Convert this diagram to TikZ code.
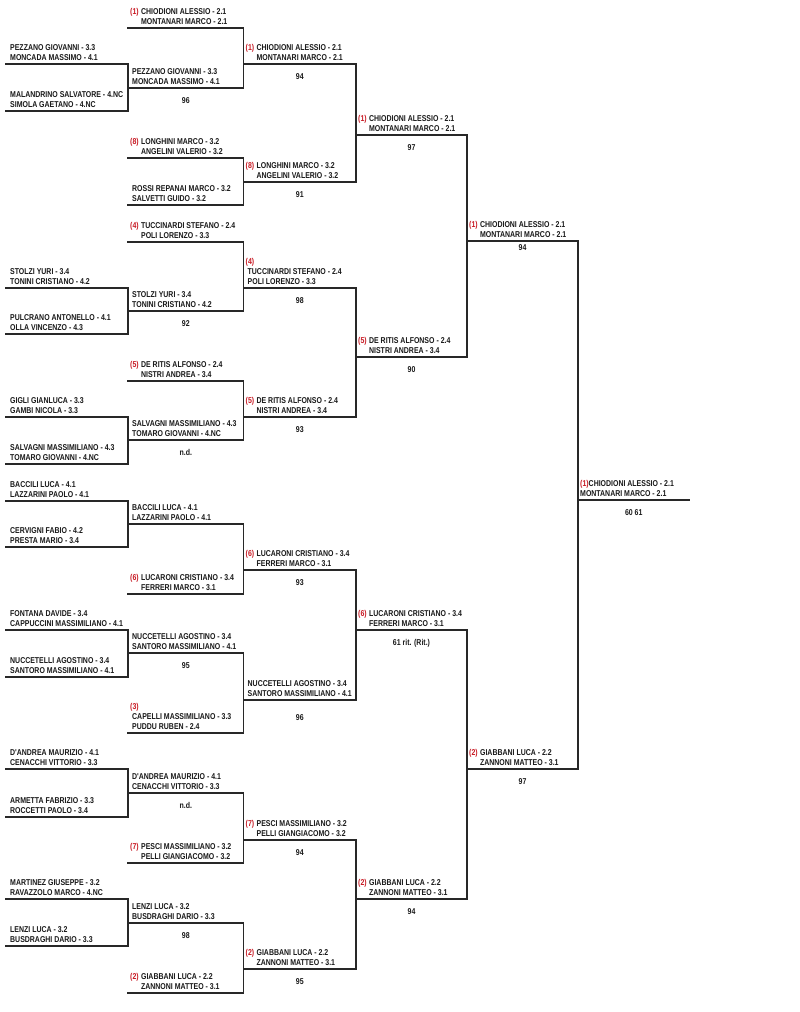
\documentclass[tikz,border=0pt]{standalone}
\usepackage{fontspec}
\newfontfamily\brfont{Liberation Sans}[FakeStretch=0.82]
\usetikzlibrary{calc}
\definecolor{seedred}{RGB}{200,25,35}
\definecolor{txt}{RGB}{25,25,25}
\definecolor{linec}{RGB}{40,40,40}
\tikzset{
  bline/.style={draw=linec, line width=1.3pt, line cap=rect, line join=miter},
  ptext/.style={anchor=base west, inner sep=0pt, text=txt, font=\brfont\bfseries\fontsize{8.5}{10}\selectfont},
  scoretext/.style={anchor=base, inner sep=0pt, text=txt, font=\brfont\bfseries\fontsize{8.5}{10}\selectfont},
}
\newcommand\sd[1]{\textcolor{seedred}{(#1)}\hspace{2.4pt}}
% name, x1, x2, y, line1, line2
\newcommand\plainslot[6]{%
  \coordinate (#1L) at (#2,#4);
  \coordinate (#1R) at (#3,#4);
  \node[ptext] (#1t1) at ($(#1L)+(4,-13.3)$) {#5};
  \node[ptext] (#1t2) at ($(#1L)+(4,-3.3)$) {#6};
}
% name, x1, x2, y, seed, line1, line2
\newcommand\seedslot[7]{%
  \coordinate (#1L) at (#2,#4);
  \coordinate (#1R) at (#3,#4);
  \node[ptext] (#1t1) at ($(#1L)+(2,-13.3)$) {\sd{#5}#6};
  \node[ptext] (#1t2) at ($(#1L)+(2,-3.3)$) {\hphantom{\sd{#5}}#7};
}
\newcommand\tripleslot[7]{%
  \coordinate (#1L) at (#2,#4);
  \coordinate (#1R) at (#3,#4);
  \node[ptext] (#1t0) at ($(#1L)+(2,-23.3)$) {\textcolor{seedred}{(#5)}};
  \node[ptext] (#1t1) at ($(#1L)+(4,-13.3)$) {#6};
  \node[ptext] (#1t2) at ($(#1L)+(4,-3.3)$) {#7};
}
\newcommand\scoreat[3][15]{%
  \node[scoretext] (#2s) at ($(#2L)!0.5!(#2R)+(0,#1)$) {#3};
}
\begin{document}
\begin{tikzpicture}[x=1pt,y=-1pt]
\fill[white] (0,0) rectangle (800,1012);
\useasboundingbox (0,0) rectangle (800,1012);

% ---------- column 0 ----------
\plainslot{a1}{6}{128}{64}{PEZZANO GIOVANNI - 3.3}{MONCADA MASSIMO - 4.1}
\plainslot{a2}{6}{128}{111}{MALANDRINO SALVATORE - 4.NC}{SIMOLA GAETANO - 4.NC}
\plainslot{a3}{6}{128}{288}{STOLZI YURI - 3.4}{TONINI CRISTIANO - 4.2}
\plainslot{a4}{6}{128}{334}{PULCRANO ANTONELLO - 4.1}{OLLA VINCENZO - 4.3}
\plainslot{a5}{6}{128}{417}{GIGLI GIANLUCA - 3.3}{GAMBI NICOLA - 3.3}
\plainslot{a6}{6}{128}{464}{SALVAGNI MASSIMILIANO - 4.3}{TOMARO GIOVANNI - 4.NC}
\plainslot{a7}{6}{128}{501}{BACCILI LUCA - 4.1}{LAZZARINI PAOLO - 4.1}
\plainslot{a8}{6}{128}{547}{CERVIGNI FABIO - 4.2}{PRESTA MARIO - 3.4}
\plainslot{a9}{6}{128}{630}{FONTANA DAVIDE - 3.4}{CAPPUCCINI MASSIMILIANO - 4.1}
\plainslot{a10}{6}{128}{677}{NUCCETELLI AGOSTINO - 3.4}{SANTORO MASSIMILIANO - 4.1}
\plainslot{a11}{6}{128}{769}{D'ANDREA MAURIZIO - 4.1}{CENACCHI VITTORIO - 3.3}
\plainslot{a12}{6}{128}{817}{ARMETTA FABRIZIO - 3.3}{ROCCETTI PAOLO - 3.4}
\plainslot{a13}{6}{128}{899}{MARTINEZ GIUSEPPE - 3.2}{RAVAZZOLO MARCO - 4.NC}
\plainslot{a14}{6}{128}{946}{LENZI LUCA - 3.2}{BUSDRAGHI DARIO - 3.3}

% ---------- column 1 ----------
\seedslot{b1}{128}{243.5}{28}{1}{CHIODIONI ALESSIO - 2.1}{MONTANARI MARCO - 2.1}
\plainslot{b2}{128}{243.5}{88}{PEZZANO GIOVANNI - 3.3}{MONCADA MASSIMO - 4.1}
\seedslot{b3}{128}{243.5}{158}{8}{LONGHINI MARCO - 3.2}{ANGELINI VALERIO - 3.2}
\plainslot{b4}{128}{243.5}{205}{ROSSI REPANAI MARCO - 3.2}{SALVETTI GUIDO - 3.2}
\seedslot{b5}{128}{243.5}{242}{4}{TUCCINARDI STEFANO - 2.4}{POLI LORENZO - 3.3}
\plainslot{b6}{128}{243.5}{311}{STOLZI YURI - 3.4}{TONINI CRISTIANO - 4.2}
\seedslot{b7}{128}{243.5}{381}{5}{DE RITIS ALFONSO - 2.4}{NISTRI ANDREA - 3.4}
\plainslot{b8}{128}{243.5}{440}{SALVAGNI MASSIMILIANO - 4.3}{TOMARO GIOVANNI - 4.NC}
\plainslot{b9}{128}{243.5}{524}{BACCILI LUCA - 4.1}{LAZZARINI PAOLO - 4.1}
\seedslot{b10}{128}{243.5}{594}{6}{LUCARONI CRISTIANO - 3.4}{FERRERI MARCO - 3.1}
\plainslot{b11}{128}{243.5}{653}{NUCCETELLI AGOSTINO - 3.4}{SANTORO MASSIMILIANO - 4.1}
\tripleslot{b12}{128}{243.5}{733}{3}{CAPELLI MASSIMILIANO - 3.3}{PUDDU RUBEN - 2.4}
\plainslot{b13}{128}{243.5}{793}{D'ANDREA MAURIZIO - 4.1}{CENACCHI VITTORIO - 3.3}
\seedslot{b14}{128}{243.5}{863}{7}{PESCI MASSIMILIANO - 3.2}{PELLI GIANGIACOMO - 3.2}
\plainslot{b15}{128}{243.5}{923}{LENZI LUCA - 3.2}{BUSDRAGHI DARIO - 3.3}
\seedslot{b16}{128}{243.5}{993}{2}{GIABBANI LUCA - 2.2}{ZANNONI MATTEO - 3.1}
\scoreat{b2}{96}
\scoreat{b6}{92}
\scoreat{b8}{n.d.}
\scoreat{b11}{95}
\scoreat{b13}{n.d.}
\scoreat{b15}{98}

% ---------- column 2 ----------
\seedslot{c1}{243.5}{356}{64}{1}{CHIODIONI ALESSIO - 2.1}{MONTANARI MARCO - 2.1}
\seedslot{c2}{243.5}{356}{182}{8}{LONGHINI MARCO - 3.2}{ANGELINI VALERIO - 3.2}
\tripleslot{c3}{243.5}{356}{288}{4}{TUCCINARDI STEFANO - 2.4}{POLI LORENZO - 3.3}
\seedslot{c4}{243.5}{356}{417}{5}{DE RITIS ALFONSO - 2.4}{NISTRI ANDREA - 3.4}
\seedslot{c5}{243.5}{356}{570}{6}{LUCARONI CRISTIANO - 3.4}{FERRERI MARCO - 3.1}
\plainslot{c6}{243.5}{356}{700}{NUCCETELLI AGOSTINO - 3.4}{SANTORO MASSIMILIANO - 4.1}
\seedslot{c7}{243.5}{356}{840}{7}{PESCI MASSIMILIANO - 3.2}{PELLI GIANGIACOMO - 3.2}
\seedslot{c8}{243.5}{356}{969}{2}{GIABBANI LUCA - 2.2}{ZANNONI MATTEO - 3.1}
\scoreat{c1}{94}
\scoreat{c2}{91}
\scoreat{c3}{98}
\scoreat{c4}{93}
\scoreat{c5}{93}
\scoreat[20]{c6}{96}
\scoreat{c7}{94}
\scoreat{c8}{95}

% ---------- column 3 ----------
\seedslot{d1}{356}{467}{135}{1}{CHIODIONI ALESSIO - 2.1}{MONTANARI MARCO - 2.1}
\seedslot{d2}{356}{467}{357}{5}{DE RITIS ALFONSO - 2.4}{NISTRI ANDREA - 3.4}
\seedslot{d3}{356}{467}{630}{6}{LUCARONI CRISTIANO - 3.4}{FERRERI MARCO - 3.1}
\seedslot{d4}{356}{467}{899}{2}{GIABBANI LUCA - 2.2}{ZANNONI MATTEO - 3.1}
\scoreat{d1}{97}
\scoreat{d2}{90}
\scoreat{d3}{61 rit. (Rit.)}
\scoreat{d4}{94}

% ---------- column 4 ----------
\seedslot{e1}{467}{578}{241}{1}{CHIODIONI ALESSIO - 2.1}{MONTANARI MARCO - 2.1}
\seedslot{e2}{467}{578}{769}{2}{GIABBANI LUCA - 2.2}{ZANNONI MATTEO - 3.1}
\scoreat[9.5]{e1}{94}
\scoreat{e2}{97}

% ---------- column 5 (winner) ----------
\coordinate (f1L) at (578,500);
\coordinate (f1R) at (689.5,500);
\node[ptext] (f1t1) at ($(f1L)+(2,-13.3)$) {\textcolor{seedred}{(1)}CHIODIONI ALESSIO - 2.1};
\node[ptext] (f1t2) at ($(f1L)+(2,-3.3)$) {MONTANARI MARCO - 2.1};
\scoreat{f1}{60 61}

% ---------- bracket lines ----------
\draw[bline] (a1L) -- (a1R) -- (a2R) -- (a2L);
\draw[bline] (a3L) -- (a3R) -- (a4R) -- (a4L);
\draw[bline] (a5L) -- (a5R) -- (a6R) -- (a6L);
\draw[bline] (a7L) -- (a7R) -- (a8R) -- (a8L);
\draw[bline] (a9L) -- (a9R) -- (a10R) -- (a10L);
\draw[bline] (a11L) -- (a11R) -- (a12R) -- (a12L);
\draw[bline] (a13L) -- (a13R) -- (a14R) -- (a14L);

\draw[bline] (b1L) -- (b1R) -- (b2R) -- (b2L);
\draw[bline] (b3L) -- (b3R) -- (b4R) -- (b4L);
\draw[bline] (b5L) -- (b5R) -- (b6R) -- (b6L);
\draw[bline] (b7L) -- (b7R) -- (b8R) -- (b8L);
\draw[bline] (b9L) -- (b9R) -- (b10R) -- (b10L);
\draw[bline] (b11L) -- (b11R) -- (b12R) -- (b12L);
\draw[bline] (b13L) -- (b13R) -- (b14R) -- (b14L);
\draw[bline] (b15L) -- (b15R) -- (b16R) -- (b16L);

\draw[bline] (c1L) -- (c1R) -- (c2R) -- (c2L);
\draw[bline] (c3L) -- (c3R) -- (c4R) -- (c4L);
\draw[bline] (c5L) -- (c5R) -- (c6R) -- (c6L);
\draw[bline] (c7L) -- (c7R) -- (c8R) -- (c8L);

\draw[bline] (d1L) -- (d1R) -- (d2R) -- (d2L);
\draw[bline] (d3L) -- (d3R) -- (d4R) -- (d4L);

\draw[bline] (e1L) -- (e1R) -- (e2R) -- (e2L);

\draw[bline] (f1L) -- (f1R);
\end{tikzpicture}
\end{document}
